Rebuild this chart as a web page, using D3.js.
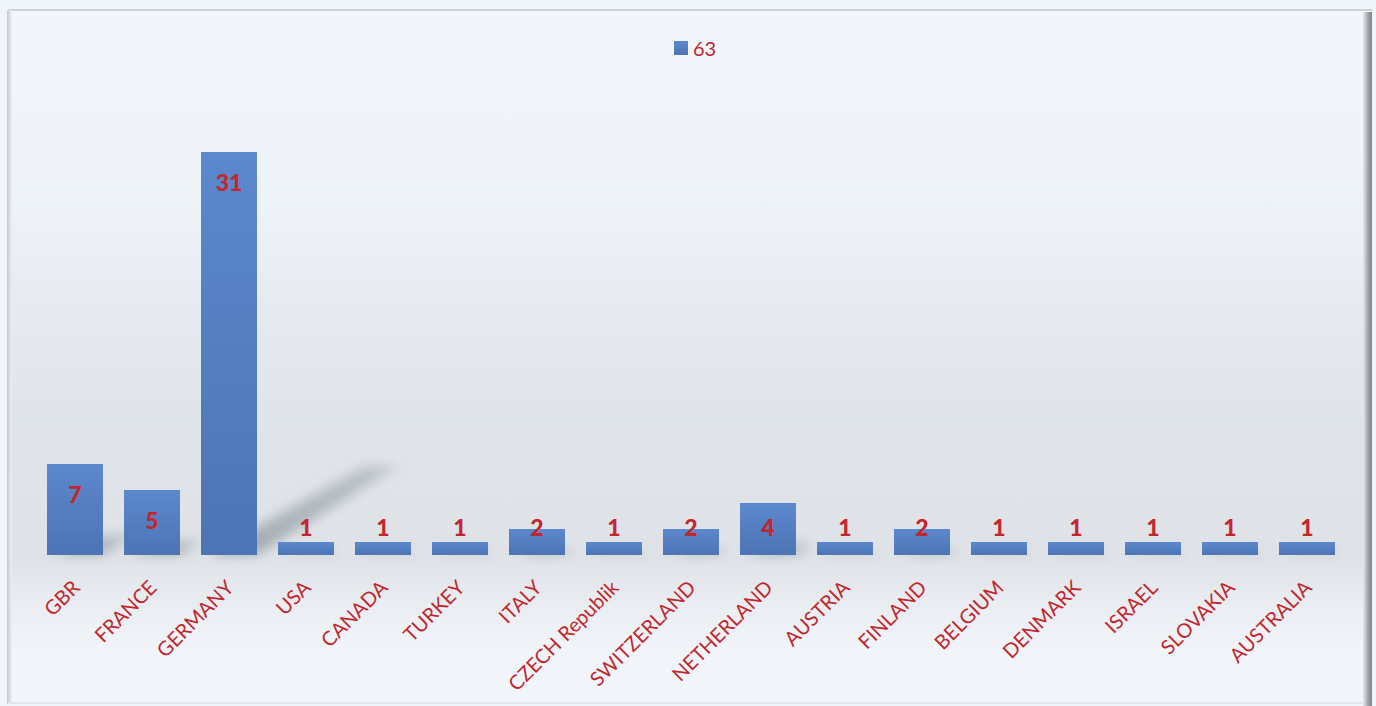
<!DOCTYPE html>
<html>
<head>
<meta charset="utf-8">
<script src="https://cdn.jsdelivr.net/npm/d3@7/dist/d3.min.js"></script>
<style>
  html, body { margin: 0; padding: 0; background: #f0f5fa; }
  svg { display: block; }
</style>
</head>
<body>
<svg id="chart" width="1376" height="706"></svg>
<script>
// Country counts (series "63" = total)
const categories = ["GBR", "FRANCE", "GERMANY", "USA", "CANADA", "TURKEY", "ITALY",
  "CZECH Republik", "SWITZERLAND", "NETHERLAND", "AUSTRIA", "FINLAND", "BELGIUM",
  "DENMARK", "ISRAEL", "SLOVAKIA", "AUSTRALIA"];
const values = [7, 5, 31, 1, 1, 1, 2, 1, 2, 4, 1, 2, 1, 1, 1, 1, 1];
const seriesName = "63";

const W = 1376, H = 706;
const red = "#c1272d";
const font = "Lato, 'Open Sans', sans-serif";
const svg = d3.select("#chart");
const defs = svg.append("defs");

// frame background: light top, grey band behind the bars, light floor
const bg = defs.append("linearGradient").attr("id", "bg").attr("x1", 0).attr("y1", 0).attr("x2", 0).attr("y2", 1);
[[0, "#f2f6fa"], [0.27, "#eef3f7"], [0.42, "#e7ebf0"], [0.6, "#dfe4e8"], [0.79, "#dfe3e8"],
 [0.86, "#eaeef3"], [0.92, "#f1f5f9"], [1, "#f2f6fa"]].forEach(([o, c]) =>
  bg.append("stop").attr("offset", o).attr("stop-color", c));

const barGrad = defs.append("linearGradient").attr("id", "barGrad").attr("x1", 0).attr("y1", 0).attr("x2", 0).attr("y2", 1);
barGrad.append("stop").attr("offset", 0).attr("stop-color", "#5c88cd");
barGrad.append("stop").attr("offset", 1).attr("stop-color", "#4d74b4");

const leftEdge = defs.append("linearGradient").attr("id", "leftEdge");
leftEdge.append("stop").attr("offset", 0).attr("stop-color", "#c3c8cd");
leftEdge.append("stop").attr("offset", 1).attr("stop-color", "#eef2f6");
const rightEdge = defs.append("linearGradient").attr("id", "rightEdge");
rightEdge.append("stop").attr("offset", 0).attr("stop-color", "#e6eaee");
rightEdge.append("stop").attr("offset", 0.6).attr("stop-color", "#9aa0a6");
rightEdge.append("stop").attr("offset", 1).attr("stop-color", "#80868c");

const blur = defs.append("filter").attr("id", "blur").attr("x", "-50%").attr("y", "-50%").attr("width", "200%").attr("height", "200%");
blur.append("feGaussianBlur").attr("stdDeviation", 6);

const shGrad = defs.append("linearGradient").attr("id", "shGrad").attr("x1", 0).attr("y1", 1).attr("x2", 1).attr("y2", 0);
shGrad.append("stop").attr("offset", 0).attr("stop-color", "#959da5").attr("stop-opacity", 0.85);
shGrad.append("stop").attr("offset", 1).attr("stop-color", "#a2a9b0").attr("stop-opacity", 0.55);

// frame
const frame = { x: 8, y: 10, w: 1364, h: 694 };
svg.append("rect").attr("x", frame.x).attr("y", frame.y).attr("width", frame.w).attr("height", frame.h)
  .attr("fill", "url(#bg)");
svg.append("rect").attr("x", frame.x).attr("y", frame.y - 1).attr("width", frame.w).attr("height", 2).attr("fill", "#cdd2d8");
svg.append("rect").attr("x", frame.x - 1).attr("y", frame.y).attr("width", 5).attr("height", frame.h).attr("fill", "url(#leftEdge)");
svg.append("rect").attr("x", frame.x + frame.w - 9).attr("y", frame.y + 2).attr("width", 9).attr("height", frame.h).attr("fill", "url(#rightEdge)");
svg.append("rect").attr("x", frame.x).attr("y", frame.y + frame.h - 2).attr("width", frame.w - 9).attr("height", 2).attr("fill", "#e3e7eb");

// scales
const x = d3.scaleBand().domain(categories).range([36.5, 1345.5]).paddingInner(0.273).paddingOuter(0.1365);
const y = d3.scaleLinear().domain([0, 35]).range([555, 100]);
const base = y(0);

// cast shadows of the bars, falling up and to the right
const shadows = svg.append("g").attr("filter", "url(#blur)");
shadows.selectAll("path").data(values).join("path")
  .attr("d", (v, i) => {
    const x0 = x(categories[i]), x1 = x0 + x.bandwidth();
    const h = base - y(v);
    const dx = 0.35 * h, dy = 0.22 * h;
    return `M${x0 + 6},${base} L${x1},${base} L${x1 + dx},${base - dy} L${x0 + dx + 22},${base - dy} Z`;
  })
  .attr("fill", "url(#shGrad)");

// bars
svg.append("g").selectAll("rect").data(values).join("rect")
  .attr("x", (v, i) => x(categories[i]))
  .attr("y", v => y(v))
  .attr("width", x.bandwidth())
  .attr("height", v => base - y(v))
  .attr("fill", "url(#barGrad)");

// value labels
svg.append("g").selectAll("text").data(values).join("text")
  .attr("x", (v, i) => x(categories[i]) + x.bandwidth() / 2)
  .attr("y", v => Math.min(y(v) + 30, base - 28))
  .attr("text-anchor", "middle")
  .attr("dominant-baseline", "central")
  .attr("font-family", font)
  .attr("font-weight", 900)
  .attr("font-size", 23)
  .attr("fill", red)
  .text(v => v);

// category axis
const xAxis = svg.append("g").attr("transform", `translate(0,${base})`)
  .call(d3.axisBottom(x).tickSize(0).tickPadding(0));
xAxis.select(".domain").remove();
xAxis.selectAll("text")
  .attr("font-family", font)
  .attr("font-size", 20)
  .attr("fill", red)
  .attr("text-anchor", "end")
  .attr("dy", null)
  .attr("y", null)
  .attr("transform", "translate(6,34) rotate(-45)");

// legend
const lg = svg.append("g").attr("transform", "translate(674,41)");
lg.append("rect").attr("width", 14).attr("height", 14).attr("fill", "url(#barGrad)");
lg.append("text").attr("x", 19).attr("y", 7).attr("dominant-baseline", "central")
  .attr("font-family", font).attr("font-size", 20).attr("fill", red)
  .text(seriesName);
</script>
</body>
</html>
